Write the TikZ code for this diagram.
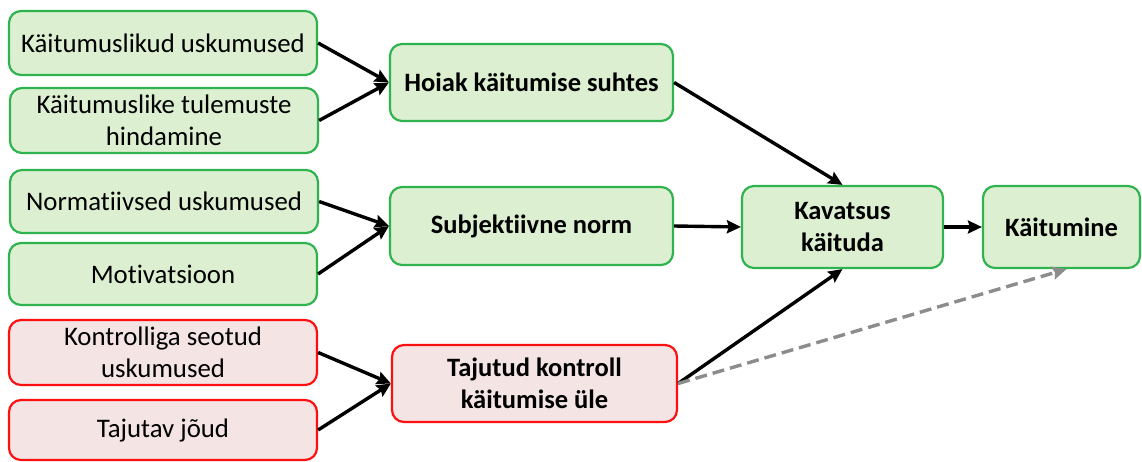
\documentclass[tikz,border=0pt]{standalone}
\usepackage{fontspec}
\setmainfont{Carlito}[Ligatures=NoCommon]
\usetikzlibrary{arrows.meta}
\definecolor{gfill}{HTML}{DCEFD1}
\definecolor{gdraw}{HTML}{2EB34F}
\definecolor{rfill}{HTML}{F4E4E4}
\definecolor{rdraw}{HTML}{FF1010}
\definecolor{dgray}{HTML}{8C8C8C}
\begin{document}
\begin{tikzpicture}[x=1pt,y=-1pt,
  box/.style={rounded corners=12pt, line width=2.2pt, inner sep=0pt, align=center,
    font=\fontsize{26.8}{32}\selectfont},
  gbox/.style={box, draw=gdraw, fill=gfill},
  rbox/.style={box, draw=rdraw, fill=rfill},
  bold/.style={font=\fontsize{26.5}{32}\selectfont\bfseries},
  arr/.style={line width=3.4pt, -{Stealth[length=14pt,width=13pt,inset=2pt]}},
  darr/.style={line width=3.4pt, dgray, dash pattern=on 12pt off 6pt, -{Stealth[length=14pt,width=13pt,inset=2pt]}}]
\useasboundingbox (0,0) rectangle (1142,462);
\node[gbox, minimum width=308pt, minimum height=64pt] (b1) at (163,43) {Käitumuslikud uskumused};
\node[gbox, minimum width=308pt, minimum height=65pt] (b2) at (164,120.5) {Käitumuslike tulemuste\\hindamine};
\node[gbox, minimum width=308pt, minimum height=63pt] (b3) at (164,201.5) {Normatiivsed uskumused};
\node[gbox, minimum width=308pt, minimum height=62pt] (b4) at (163,274) {Motivatsioon};
\node[rbox, minimum width=308pt, minimum height=65pt] (b5) at (163,352.5) {Kontrolliga seotud\\uskumused};
\node[rbox, minimum width=308pt, minimum height=60pt] (b6) at (163,430) {\raisebox{-3pt}{Tajutav jõud}};
\node[gbox, bold, minimum width=283pt, minimum height=77pt] (m1) at (531.5,82.5) {Hoiak käitumise suhtes};
\node[gbox, bold, minimum width=283pt, minimum height=78pt] (m2) at (531.5,226) {Subjektiivne norm};
\node[rbox, bold, minimum width=285pt, minimum height=77pt] (m3) at (534.5,383.5) {Tajutud kontroll\\käitumise üle};
\node[gbox, bold, minimum width=201pt, minimum height=82pt] (k) at (842.5,227) {Kavatsus\\käituda};
\node[gbox, bold, minimum width=157pt, minimum height=82pt] (ka) at (1061.5,227) {Käitumine};
\draw[arr] (b1.east) -- (m1.west);
\draw[arr] (b2.east) -- (m1.west);
\draw[arr] (b3.east) -- (m2.west);
\draw[arr] (b4.east) -- (m2.west);
\draw[arr] (b5.east) -- (m3.west);
\draw[arr] (b6.east) -- (m3.west);
\draw[arr] (m1.east) -- (k.north);
\draw[arr] (m2.east) -- (k.west);
\draw[arr] (m3.east) -- (k.south);
\draw[arr] (k.east) -- (ka.west);
\draw[darr] (m3.east) -- ([xshift=5pt]ka.south);
\end{tikzpicture}
\end{document}
